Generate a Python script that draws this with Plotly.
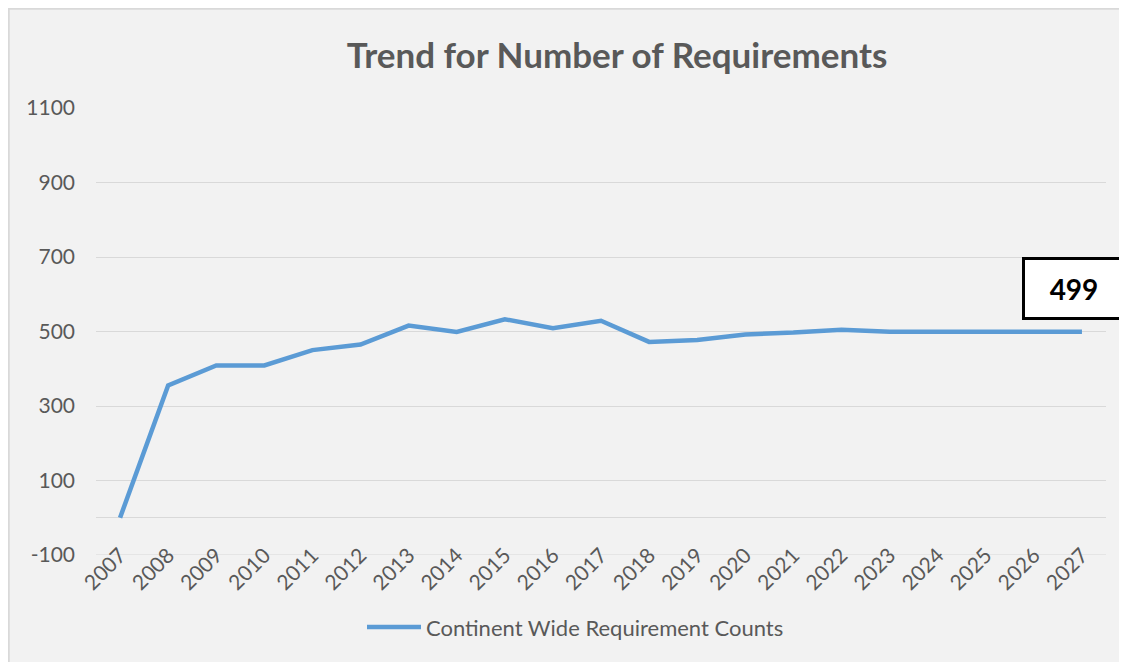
import plotly.graph_objects as go

years = [str(y) for y in range(2007, 2028)]
counts = [0, 355, 409, 409, 450, 465, 516, 499, 533, 509, 529, 472, 477, 492, 497, 505, 499, 499, 499, 499, 499]
series_name = "Continent Wide Requirement Counts"
title_text = "Trend for Number of Requirements"
callout_text = "499"
y_ticks = [-100, 100, 300, 500, 700, 900, 1100]
y_tick_text = ["-100", "100", "300", "500", "700", "900", "1100"]

# page body adds an 8px offset; work in screen pixels and subtract it
OFF = 8
W, H = 1127 - OFF, 662 - OFF
L, R, T, B = 96 - OFF, 1106 - OFF, 108 - OFF, 555 - OFF

def px_x(p):
    return (p - OFF - L) / (R - L)

def px_y(p):
    return (B - (p - OFF)) / (B - T)

fig = go.Figure()
fig.add_trace(go.Scatter(
    x=years, y=counts, mode="lines", name=series_name,
    line=dict(color="#5b9bd5", width=4.5),
    showlegend=False,
))

font_family = "Lato, 'Open Sans', sans-serif"
grey = "#595959"

fig.update_layout(
    width=W, height=H,
    margin=dict(l=L, r=W - R, t=T, b=H - B),
    paper_bgcolor="#f2f2f2",
    plot_bgcolor="rgba(0,0,0,0)",
    font=dict(family=font_family, color=grey),
    title=dict(text="<b>" + title_text + "</b>", x=(617 - OFF) / W, xanchor="center",
               y=1 - (56 - OFF) / H, yanchor="middle",
               font=dict(size=35, color=grey, family=font_family)),
    showlegend=False,
    xaxis=dict(type="category", tickangle=-45, showgrid=False, showline=False,
               ticks="", tickfont=dict(size=21, color=grey), zeroline=False,
               ticklabelstandoff=-17,
               range=[-0.5, len(years) - 0.5], fixedrange=True),
    yaxis=dict(range=[-100, 1100], tickvals=y_ticks, ticktext=y_tick_text,
               showgrid=True, gridcolor="#d9d9d9",
               gridwidth=1, zeroline=True, zerolinecolor="#d9d9d9", zerolinewidth=1,
               showline=False, ticks="", tickfont=dict(size=21, color=grey),
               ticklabelstandoff=20, fixedrange=True),
)

# chart area border (top and left visible)
fig.add_shape(type="line", xref="paper", yref="paper", layer="below",
              x0=px_x(7), x1=px_x(1140), y0=px_y(8.5), y1=px_y(8.5),
              line=dict(color="#d9d9d9", width=2.5))
fig.add_shape(type="line", xref="paper", yref="paper", layer="below",
              x0=px_x(8.5), x1=px_x(8.5), y0=px_y(7), y1=px_y(680),
              line=dict(color="#d9d9d9", width=2.5))

# -100 gridline (range edge)
fig.add_shape(type="line", xref="paper", yref="y", layer="below",
              x0=0, x1=1, y0=-100, y1=-100, line=dict(color="#d9d9d9", width=1))

# custom legend
fig.add_shape(type="line", xref="paper", yref="paper",
              x0=px_x(367), x1=px_x(421), y0=px_y(627), y1=px_y(627),
              line=dict(color="#5b9bd5", width=4.5))
fig.add_annotation(xref="paper", yref="paper", x=px_x(424), y=px_y(627),
                   xanchor="left", yanchor="middle", showarrow=False,
                   text=series_name, font=dict(size=22, color=grey, family=font_family))

# callout box
fig.add_annotation(
    xref="paper", yref="paper", x=px_x(1074), y=px_y(288.7),
    xanchor="center", yanchor="middle", showarrow=False,
    text="<b>" + callout_text + "</b>",
    font=dict(size=28, color="black", family=font_family),
    bgcolor="white", bordercolor="black", borderwidth=3,
    width=96, height=55,
)

fig.write_html("out.html")
